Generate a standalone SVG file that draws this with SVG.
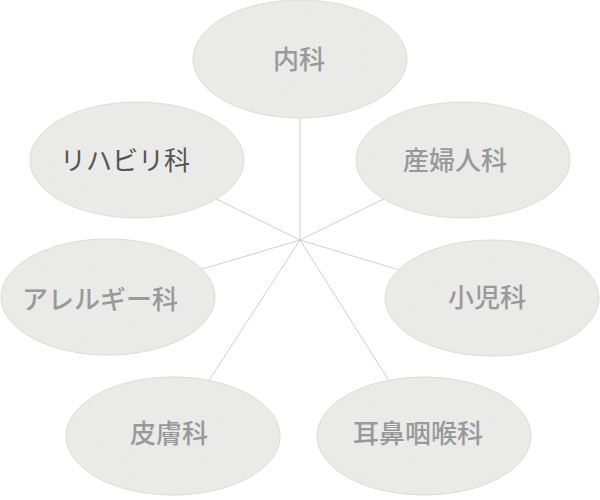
<svg xmlns="http://www.w3.org/2000/svg" width="600" height="500" viewBox="0 0 600 500">
  <defs>
    <filter id="paper" x="-5%" y="-5%" width="110%" height="110%">
      <feTurbulence type="fractalNoise" baseFrequency="0.35" numOctaves="3" seed="4" result="noise"/>
      <feColorMatrix in="noise" type="matrix" values="0 0 0 0 0.6  0 0 0 0 0.6  0 0 0 0 0.58  0 0 0 0.12 0" result="tint"/>
      <feComposite in="tint" in2="SourceGraphic" operator="in" result="tex"/>
      <feMerge><feMergeNode in="SourceGraphic"/><feMergeNode in="tex"/></feMerge>
    </filter>
  </defs>
  <style>
    .bubble { fill: #ececea; stroke: #dcdcd8; stroke-width: 1; filter: url(#paper); }
    .label { font-family: "Noto Sans CJK JP", "Noto Sans CJK SC", sans-serif; font-size: 26px; font-weight: 500; fill: #999999; text-anchor: middle; }
    .dark { fill: #555555; font-weight: 400; }
    .conn line { stroke: #cfcfcb; stroke-width: 1; }
  </style>
  <rect width="600" height="500" fill="#ffffff"/>
  <g id="connectors" class="conn">
    <line x1="300" y1="240" x2="300" y2="59"/>
    <line x1="300" y1="240" x2="137" y2="160"/>
    <line x1="300" y1="240" x2="463" y2="160"/>
    <line x1="300" y1="240" x2="108" y2="297"/>
    <line x1="300" y1="240" x2="492" y2="298"/>
    <line x1="300" y1="240" x2="173" y2="436"/>
    <line x1="300" y1="240" x2="424" y2="436"/>
  </g>
  <g id="naika">
    <ellipse class="bubble" cx="300" cy="59" rx="107" ry="59"/>
    <text class="label" x="299" y="69">内科</text>
  </g>
  <g id="rehabilitation">
    <ellipse class="bubble" cx="137" cy="160" rx="107" ry="58"/>
    <text class="label dark" x="125" y="170">リハビリ科</text>
  </g>
  <g id="obstetrics">
    <ellipse class="bubble" cx="463" cy="160" rx="107" ry="58"/>
    <text class="label" x="455" y="170">産婦人科</text>
  </g>
  <g id="allergy">
    <ellipse class="bubble" cx="108" cy="297" rx="107" ry="58"/>
    <text class="label" x="100" y="309">アレルギー科</text>
  </g>
  <g id="pediatrics">
    <ellipse class="bubble" cx="492" cy="298" rx="107" ry="58"/>
    <text class="label" x="487" y="307">小児科</text>
  </g>
  <g id="dermatology">
    <ellipse class="bubble" cx="173" cy="436" rx="107" ry="59"/>
    <text class="label" x="169" y="443">皮膚科</text>
  </g>
  <g id="ent">
    <ellipse class="bubble" cx="424" cy="436" rx="107" ry="59"/>
    <text class="label" x="418" y="443">耳鼻咽喉科</text>
  </g>
</svg>
